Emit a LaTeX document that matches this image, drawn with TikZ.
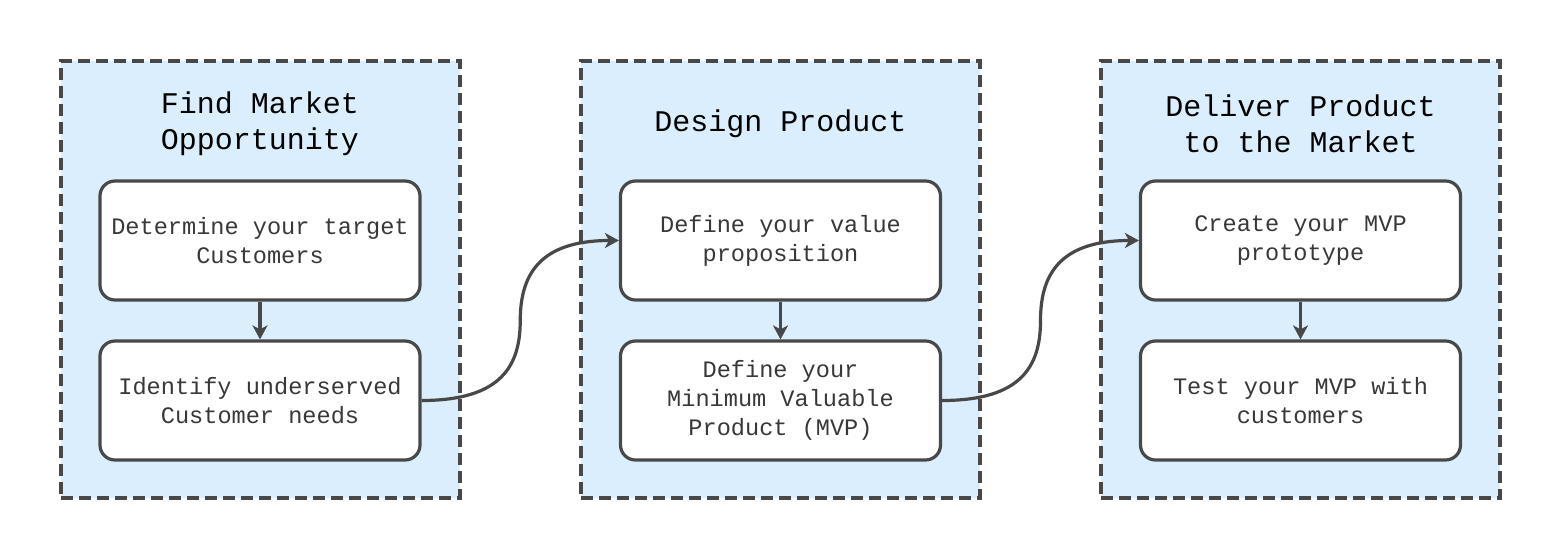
\documentclass[tikz,border=0pt]{standalone}
\usepackage{fontspec}
\setmonofont{Liberation Mono}
\usetikzlibrary{arrows.meta,calc}
\definecolor{grpfill}{HTML}{DBEEFD}
\definecolor{edge}{HTML}{484848}
\definecolor{txt}{HTML}{383838}
\tikzset{
  group/.style={draw=edge, fill=grpfill, line width=1.6pt, dash pattern=on 6pt off 3pt,
    minimum width=199.5pt, minimum height=218.5pt, inner sep=0pt},
  title/.style={font=\ttfamily\fontsize{15}{18}\selectfont, text=black, align=center},
  stepbox/.style={draw=edge, fill=white, line width=1.6pt, rounded corners=7.5pt,
    minimum width=160pt, minimum height=59.5pt, inner sep=0pt, align=center, text=txt,
    font=\ttfamily\fontsize{11.8}{14.5}\selectfont},
  flow/.style={draw=edge, line width=1.6pt, -{Stealth[length=7pt,width=7.5pt,inset=2pt]}}
}
\begin{document}
\begin{tikzpicture}[x=0.5pt,y=-0.5pt]
\useasboundingbox (0,0) rectangle (1561,560);
% groups
\node[group] (g1) at (260.5,279.5) {};
\node[group] (g2) at (780.5,279.5) {};
\node[group] (g3) at (1300.5,279.5) {};
% titles
\node[title] (t1) at (260,124) {Find Market\\Opportunity};
\node[title] (t2) at (780.5,124) {Design Product};
\node[title] (t3) at (1300.5,124) {Deliver Product\\to the Market};
% boxes
\node[stepbox] (b11) at (260,240.5) {Determine your target\\Customers};
\node[stepbox] (b12) at (260,400.5) {Identify underserved\\Customer needs};
\node[stepbox] (b21) at (780.5,240.5) {Define your value\\proposition};
\node[stepbox] (b22) at (780.5,400.5) {Define your\\Minimum Valuable\\Product (MVP)};
\node[stepbox] (b31) at (1300.5,240.5) {Create your MVP\\prototype};
\node[stepbox] (b32) at (1300.5,400.5) {Test your MVP with\\customers};
% curve midpoints
\coordinate (m1) at ($(b12.east)!0.5!(b21.west)$);
\coordinate (m2) at ($(b22.east)!0.5!(b31.west)$);
% connectors
\draw[flow] (b11) -- (b12);
\draw[flow] (b21) -- (b22);
\draw[flow] (b31) -- (b32);
\draw[flow] (b12.east) .. controls +(80,0) and +(0,45) .. (m1)
  .. controls +(0,-45) and +(-80,0) .. (b21.west);
\draw[flow] (b22.east) .. controls +(80,0) and +(0,45) .. (m2)
  .. controls +(0,-45) and +(-80,0) .. (b31.west);
\end{tikzpicture}
\end{document}
